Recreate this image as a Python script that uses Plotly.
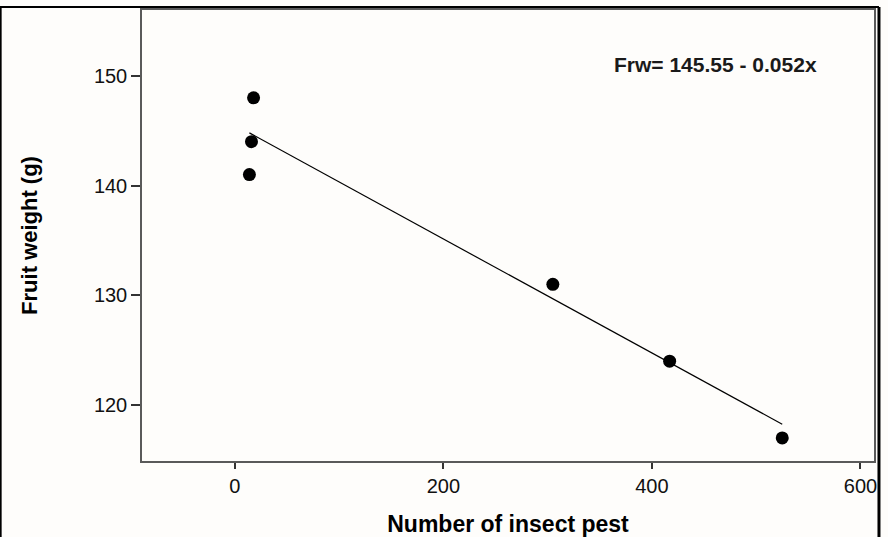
import plotly.graph_objects as go

# Data
insect_pest = [14, 16, 18, 305, 417, 525]
fruit_weight = [141, 144, 148, 131, 124, 117]

# Regression line end points (Frw = 145.55 - 0.052x)
fit_x = [14, 525]
fit_y = [144.8, 118.25]

x_ticks = [0, 200, 400, 600]
y_ticks = [120, 130, 140, 150]

equation_text = "Frw= 145.55 - 0.052x"
x_title = "Number of insect pest"
y_title = "Fruit weight (g)"

FONT = "Liberation Sans, Arial, sans-serif"
BG = "#fefdfb"

fig = go.Figure()
fig.add_trace(go.Scatter(
    x=fit_x, y=fit_y, mode="lines",
    line=dict(color="black", width=1.2), showlegend=False, hoverinfo="skip"))
fig.add_trace(go.Scatter(
    x=insect_pest, y=fruit_weight, mode="markers",
    marker=dict(color="black", size=13, symbol="circle"), showlegend=False))

axis_common = dict(
    showgrid=False, zeroline=False, showline=True, mirror=True,
    linecolor="#5a5a5a", linewidth=1.5,
    ticks="outside", tickcolor="#333333", tickwidth=1.5,
    tickfont=dict(family=FONT, size=20, color="#111111"),
    automargin=False,
)

fig.update_layout(
    width=888, height=537,
    paper_bgcolor=BG, plot_bgcolor=BG,
    margin=dict(l=142, r=14, t=10, b=76),
    xaxis=dict(range=[-89, 613], tickvals=x_ticks, ticklen=6,
               title=dict(text=x_title, standoff=20,
                          font=dict(family=FONT, size=23, color="black", weight="bold")),
               **axis_common),
    yaxis=dict(range=[114.9, 156], tickvals=y_ticks, ticklen=9,
               title=dict(text=y_title, standoff=50,
                          font=dict(family=FONT, size=22, color="black", weight="bold")),
               **axis_common),
    annotations=[dict(
        text="<b>" + equation_text + "</b>", x=461, y=151.0, xref="x", yref="y",
        showarrow=False, font=dict(family=FONT, size=21, color="#1a1a1a"))],
    shapes=[
        # outer black frame of the figure image
        dict(type="line", xref="paper", yref="paper", x0=-0.194, x1=1.0068,
             y0=1.0067, y1=1.0067, line=dict(color="black", width=2)),
        dict(type="line", xref="paper", yref="paper", x0=1.0068, x1=1.0068,
             y0=1.0067, y1=-0.17, line=dict(color="black", width=3)),
        dict(type="line", xref="paper", yref="paper", x0=-0.1931, x1=-0.1931,
             y0=1.0067, y1=-0.17, line=dict(color="black", width=2)),
    ],
)

fig.write_html("out.html", config={"displayModeBar": False},
               post_script="document.body.style.margin='0';")
